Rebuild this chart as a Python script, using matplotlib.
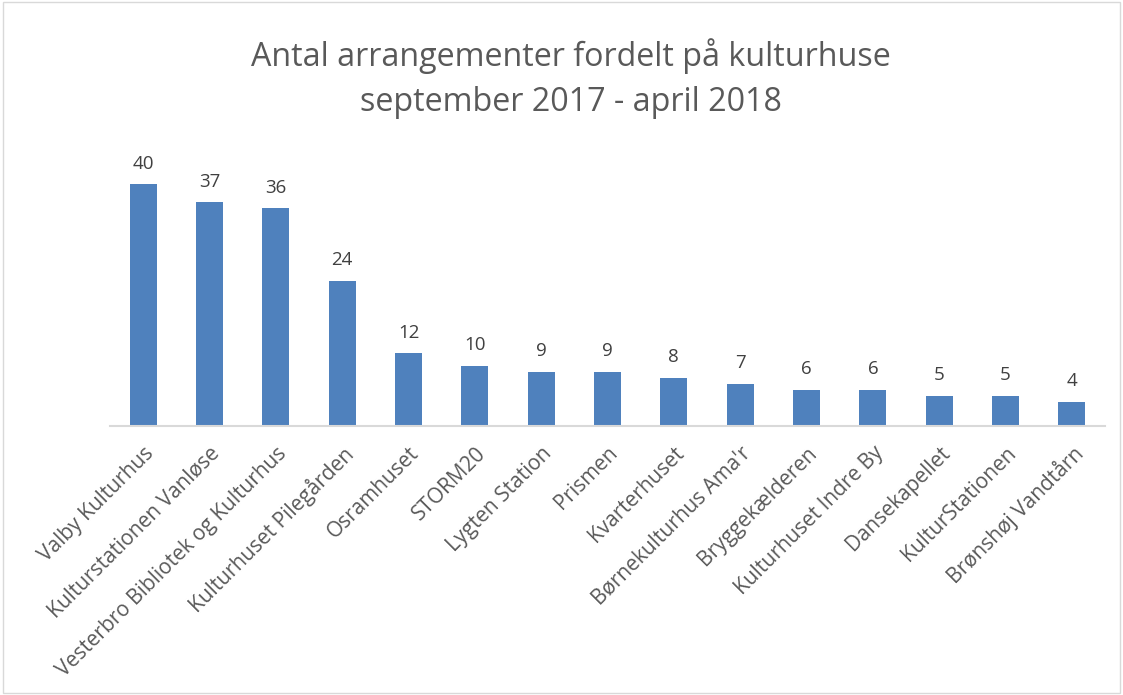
import numpy as np
import matplotlib.pyplot as plt

# data
kulturhuse = ['Valby Kulturhus', 'Kulturstationen Vanløse', 'Vesterbro Bibliotek og Kulturhus',
              'Kulturhuset Pilegården', 'Osramhuset', 'STORM20', 'Lygten Station', 'Prismen',
              'Kvarterhuset', "Børnekulturhus Ama'r", 'Bryggekælderen', 'Kulturhuset Indre By',
              'Dansekapellet', 'KulturStationen', 'Brønshøj Vandtårn']
antal = [40, 37, 36, 24, 12, 10, 9, 9, 8, 7, 6, 6, 5, 5, 4]

plt.rcParams['font.family'] = ['Open Sans', 'DejaVu Sans']

fig = plt.figure(figsize=(11.23, 6.95), dpi=100)
ax = fig.add_axes([110 / 1123, 269 / 695, 995 / 1123, 272 / 695])

x = np.arange(len(kulturhuse))
bars = ax.bar(x, antal, width=0.41, color='#4f81bd')
ax.set_xlim(-0.5, len(kulturhuse) - 0.5)
ax.set_ylim(0, 45)

for xi, v in zip(x, antal):
    ax.text(xi, v + 1.9, str(v), ha='center', va='bottom', fontsize=13.5, color='#404040')

ax.set_xticks(x)
ax.set_xticklabels(kulturhuse, rotation=45, ha='right', rotation_mode='anchor',
                   fontsize=15, color='#595959')
ax.tick_params(axis='x', length=0, pad=12)
ax.set_yticks([])
for s in ['top', 'left', 'right']:
    ax.spines[s].set_visible(False)
ax.spines['bottom'].set_color('#d9d9d9')
ax.spines['bottom'].set_linewidth(1.5)

fig.text(0.508, 0.887, 'Antal arrangementer fordelt på kulturhuse\nseptember 2017 - april 2018',
         ha='center', va='center', fontsize=23.2, color='#595959', linespacing=1.45)

# ramme rundt om diagrammet
fig.patches.append(plt.Rectangle((0.003, 0.003), 0.994, 0.994, transform=fig.transFigure,
                                 fill=False, edgecolor='#d9d9d9', linewidth=1))

fig.savefig('out.png', dpi=100)
